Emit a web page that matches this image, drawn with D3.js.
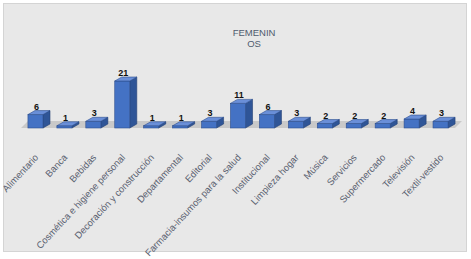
<!DOCTYPE html>
<html>
<head>
<meta charset="utf-8">
<script src="https://cdn.jsdelivr.net/npm/d3@7"></script>
<style>
  body { margin: 0; background: #fff; }
  text { font-family: "Liberation Sans", Arial, sans-serif; }
</style>
</head>
<body>
<script>
// datos
var categorias = ["Alimentario", "Banca", "Bebidas", "Cosmética e higiene personal",
  "Decoración y construcción", "Departamental", "Editorial", "Farmacia-insumos para la salud",
  "Institucional", "Limpieza hogar", "Música", "Servicios", "Supermercado", "Televisión", "Textil-vestido"];
var valores = [6, 1, 3, 21, 1, 1, 3, 11, 6, 3, 2, 2, 2, 4, 3];
var tituloLineas = ["FEMENIN", "OS"];

var W = 471, H = 259;
var base = 128;       // linea del piso (frente)
var dx = 7, dy = -4;  // profundidad 3D

var svg = d3.select("body").append("svg")
  .attr("width", W).attr("height", H);

// fondo del grafico
svg.append("rect")
  .attr("x", 3.5).attr("y", 3.5).attr("width", 463).attr("height", 248)
  .attr("fill", "#e8e8e8").attr("stroke", "#d4d4d4");

// escalas
var x = d3.scaleBand()
  .domain(categorias)
  .range([21, 455])
  .paddingInner(0.48)
  .paddingOuter(0.24);

var y = d3.scaleLinear()
  .domain([0, 21])
  .range([base, base - 47]);

// piso
var x0 = x.range()[0], x1 = x.range()[1];
svg.append("path")
  .attr("d", "M" + x0 + "," + base + "L" + x1 + "," + base + "L" + (x1 + 7) + "," + (base - 7) + "L" + (x0 + 7) + "," + (base - 7) + "Z")
  .attr("fill", "#c9c9c9");

// titulo
svg.append("g").selectAll("text")
  .data(tituloLineas)
  .enter().append("text")
  .attr("x", 254)
  .attr("y", (d, i) => 36 + i * 10.5)
  .attr("text-anchor", "middle")
  .attr("font-size", 9.5)
  .attr("fill", "#4f5b6e")
  .text(d => d);

// barras 3D
var bw = x.bandwidth();
var barras = svg.append("g").selectAll("g")
  .data(valores)
  .enter().append("g");

// lado
barras.append("path")
  .attr("d", (d, i) => {
    var xr = x(categorias[i]) + bw, yt = y(d);
    return "M" + xr + "," + base + "L" + (xr + dx) + "," + (base + dy) + "L" + (xr + dx) + "," + (yt + dy) + "L" + xr + "," + yt + "Z";
  })
  .attr("fill", "#2f5597").attr("stroke", "#243f73").attr("stroke-width", 0.6);

// frente
barras.append("rect")
  .attr("x", (d, i) => x(categorias[i]))
  .attr("y", d => y(d))
  .attr("width", bw)
  .attr("height", d => base - y(d))
  .attr("fill", "#4472c4").attr("stroke", "#2d4f8e").attr("stroke-width", 0.6);

// tapa
barras.append("path")
  .attr("d", (d, i) => {
    var xl = x(categorias[i]), yt = y(d);
    return "M" + xl + "," + yt + "L" + (xl + bw) + "," + yt + "L" + (xl + bw + dx) + "," + (yt + dy) + "L" + (xl + dx) + "," + (yt + dy) + "Z";
  })
  .attr("fill", "#6a8fd8").attr("stroke", "#2d4f8e").attr("stroke-width", 0.6);

// etiquetas de valor
barras.append("text")
  .attr("x", (d, i) => x(categorias[i]) + bw / 2 + 1)
  .attr("y", d => y(d) + dy - 1)
  .attr("text-anchor", "middle")
  .attr("font-size", 9)
  .attr("font-weight", "bold")
  .attr("fill", "#111")
  .text(d => d);

// etiquetas de categoria
svg.append("g").selectAll("text")
  .data(categorias)
  .enter().append("text")
  .attr("transform", d => "translate(" + (x(d) + bw / 2 + 3.5) + "," + 158 + ") rotate(-47)")
  .attr("text-anchor", "end")
  .attr("font-size", 9.5)
  .attr("fill", "#5a6170")
  .text(d => d);
</script>
</body>
</html>
